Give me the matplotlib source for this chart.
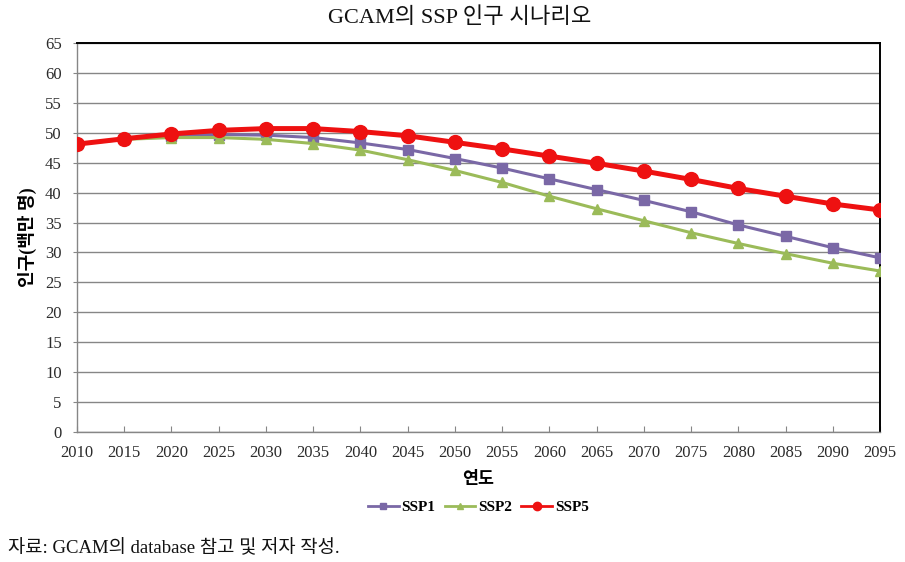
import matplotlib
matplotlib.use("Agg")
import matplotlib.pyplot as plt

plt.rcParams["font.family"] = ["Liberation Serif", "Noto Sans CJK KR", "DejaVu Sans"]

years = [2010, 2015, 2020, 2025, 2030, 2035, 2040, 2045, 2050, 2055,
         2060, 2065, 2070, 2075, 2080, 2085, 2090, 2095]
ssp1 = [48.1, 49.0, 49.5, 49.7, 49.6, 49.2, 48.3, 47.2, 45.7, 44.1,
        42.3, 40.5, 38.7, 36.8, 34.6, 32.7, 30.8, 29.1]
ssp2 = [48.1, 48.9, 49.2, 49.2, 48.9, 48.2, 47.1, 45.5, 43.7, 41.7,
        39.4, 37.3, 35.3, 33.3, 31.5, 29.8, 28.2, 26.9]
ssp5 = [48.1, 49.0, 49.8, 50.4, 50.7, 50.7, 50.2, 49.5, 48.4, 47.3,
        46.1, 44.9, 43.6, 42.2, 40.7, 39.4, 38.1, 37.1]
yticks = list(range(0, 66, 5))

GRID = "#868686"
INK = "#2b2b2b"

fig = plt.figure(figsize=(9.05, 5.62), dpi=100)
ax = fig.add_axes([0.0851, 0.2313, 0.8873, 0.6922])

ax.plot(years, ssp1, color="#7a68a6", lw=2.2, marker="s", ms=7, label="SSP1", zorder=3)
ax.plot(years, ssp2, color="#9bbb59", lw=2.2, marker="^", ms=7, label="SSP2", zorder=3)
ax.plot(years, ssp5, color="#ee1111", lw=3.6, marker="o", ms=10, label="SSP5", zorder=4)

ax.set_xlim(years[0], years[-1])
ax.set_ylim(0, 65)
ax.set_xticks(years)
ax.set_yticks(yticks)
ax.tick_params(axis="x", direction="in", length=4, color=GRID, labelsize=12, labelcolor=INK, pad=9)
ax.tick_params(axis="y", direction="out", length=3, color=GRID, labelsize=12, labelcolor=INK, pad=8)
ax.grid(axis="y", color=GRID, lw=1.0)
ax.set_axisbelow(True)
for s in ("left", "bottom"):
    ax.spines[s].set_color(GRID)
    ax.spines[s].set_linewidth(1.0)
for s in ("top", "right"):
    ax.spines[s].set_color("black")
    ax.spines[s].set_linewidth(1.4)

fig.text(0.508, 0.968, "GCAM의 SSP 인구 시나리오", ha="center", va="center", fontsize=16, color="#111111")
ax.set_xlabel("연도", fontsize=12.5, fontweight="bold", labelpad=8)
ax.set_ylabel("인구(백만 명)", fontsize=13, fontweight="bold", labelpad=6)

leg = ax.legend(loc="upper center", bbox_to_anchor=(0.5, -0.14), ncol=3, frameon=False,
                handlelength=2.0, columnspacing=0.6, handletextpad=0.2, markerscale=0.6,
                prop={"weight": "bold", "size": 11})
for line in leg.get_lines():
    line.set_linewidth(2.0)

fig.text(0.009, 0.025, "자료: GCAM의 database 참고 및 저자 작성.", ha="left", va="center",
         fontsize=13.5, color="#111111")

fig.savefig("out.png", dpi=100)
